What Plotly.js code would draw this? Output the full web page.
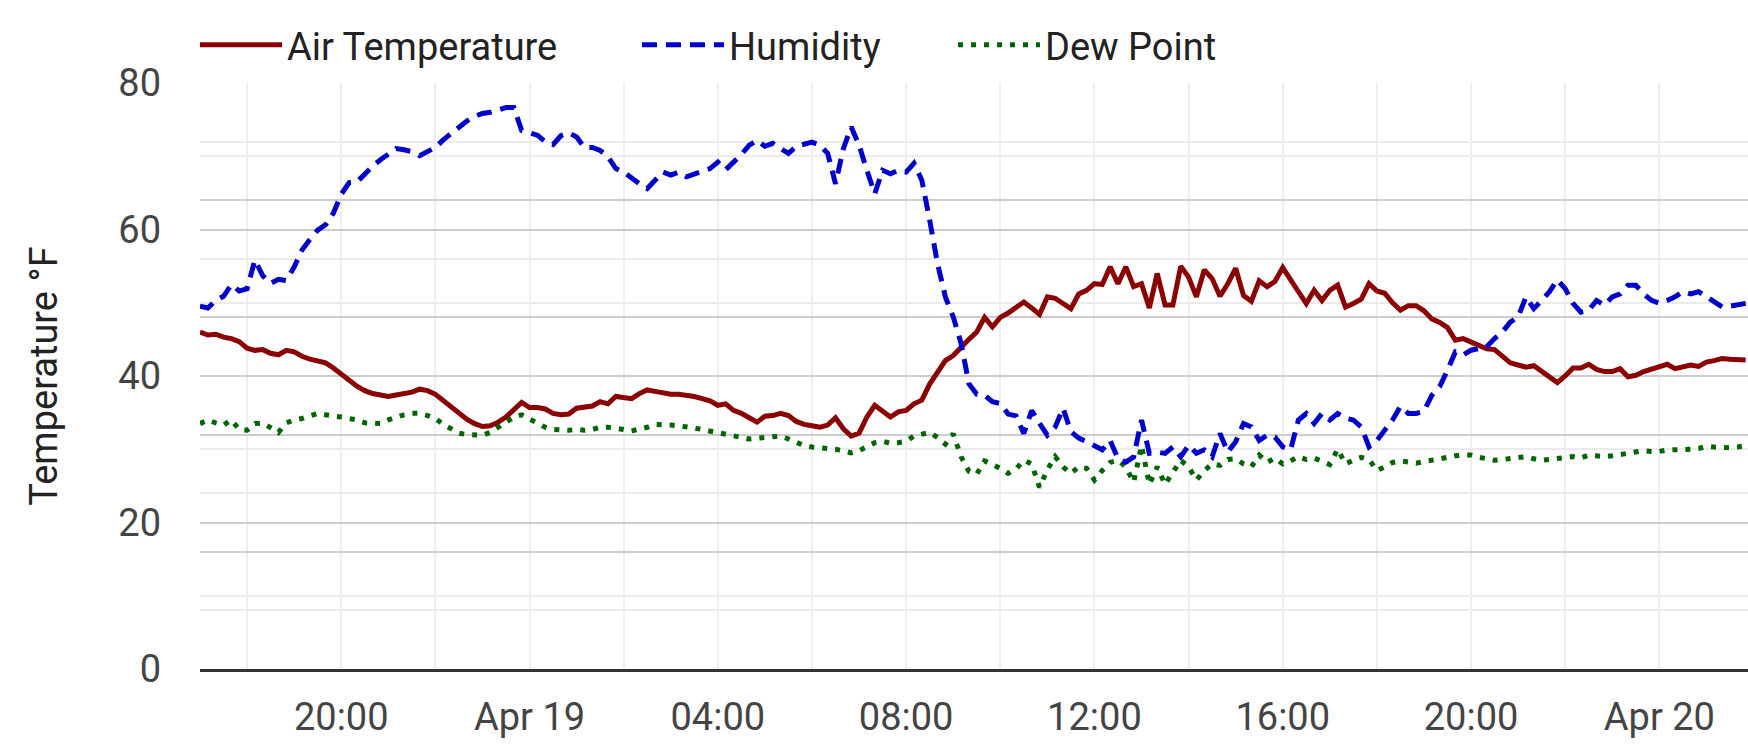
<!DOCTYPE html>
<html>
<head>
<meta charset="utf-8">
<script src="https://cdn.plot.ly/plotly-3.0.1.min.js"></script>
<style>
  html, body { margin: 0; padding: 0; background: #fff; }
</style>
</head>
<body>
<div id="chart" style="width:1748px;height:749px"></div>
<script>
// readings every 10 minutes from Apr 18 17:00
const stepMinutes = 10;

const airTemp = [
  46.0, 45.6, 45.7, 45.3, 45.1, 44.7, 43.8, 43.5, 43.6, 43.1,
  42.9, 43.5, 43.3, 42.7, 42.3, 42.1, 41.8, 41.1, 40.2, 39.4,
  38.6, 38.0, 37.6, 37.4, 37.2, 37.4, 37.6, 37.8, 38.2, 38.0,
  37.5, 36.6, 35.8, 34.9, 34.1, 33.5, 33.1, 33.2, 33.7, 34.4,
  35.5, 36.4, 35.7, 35.7, 35.5, 34.9, 34.7, 34.8, 35.6, 35.8,
  35.9, 36.5, 36.2, 37.2, 37.1, 36.9, 37.6, 38.1, 37.9, 37.7,
  37.5, 37.5, 37.4, 37.2, 36.9, 36.6, 36.0, 36.2, 35.3, 34.9,
  34.3, 33.7, 34.5, 34.6, 34.9, 34.6, 33.8, 33.4, 33.2, 33.0,
  33.3, 34.3, 32.8, 31.8, 32.2, 34.4, 36.0, 35.2, 34.4, 35.1,
  35.3, 36.2, 36.7, 38.9, 40.6, 42.1, 42.8, 44.0, 45.0, 46.0,
  48.0, 46.7, 48.0, 48.6, 49.4, 50.1, 49.3, 48.4, 50.8, 50.6,
  49.9, 49.2, 51.2, 51.7, 52.6, 52.5, 54.9, 52.6, 54.9, 52.2,
  52.6, 49.3, 54.0, 49.7, 49.7, 55.0, 53.5, 50.8, 54.5, 53.3,
  50.9, 52.6, 54.7, 51.0, 50.2, 53.0, 52.2, 52.9, 54.8, 53.0,
  51.5, 49.9, 51.7, 50.3, 51.7, 52.4, 49.4, 49.9, 50.5, 52.6,
  51.6, 51.3, 50.0, 49.0, 49.6, 49.6, 48.9, 47.8, 47.3, 46.6,
  44.9, 45.1, 44.6, 44.2, 43.7, 43.6, 42.8, 41.8, 41.5, 41.2,
  41.4, 40.6, 40.0, 39.1, 40.0, 41.1, 41.1, 41.6, 40.9, 40.6,
  40.6, 41.0, 39.9, 40.1, 40.6, 40.9, 41.3, 41.6, 41.0, 41.3,
  41.5, 41.3, 41.9, 42.1, 42.4, 42.3, 42.3, 42.2
];

// relative humidity in %, drawn on the hidden 0-100 axis
const humidity = [
  61.9, 61.6, 62.9, 63.6, 65.6, 64.5, 64.9, 69.8, 67.1, 65.8,
  66.5, 66.3, 68.6, 71.5, 73.3, 74.9, 75.8, 77.8, 81.0, 83.0,
  83.1, 84.5, 85.8, 86.9, 87.9, 88.8, 88.6, 88.3, 87.6, 88.3,
  89.0, 90.3, 91.4, 92.4, 93.5, 94.3, 94.8, 95.0, 95.4, 95.8,
  95.8, 91.9, 91.5, 91.1, 90.0, 89.5, 91.0, 91.5, 90.8, 89.0,
  89.0, 88.5, 87.4, 85.4, 84.8, 83.7, 82.8, 82.0, 83.4, 84.8,
  84.3, 84.8, 84.0, 84.5, 85.1, 85.4, 86.5, 85.2, 86.5, 87.8,
  89.4, 90.2, 89.2, 89.7, 88.8, 88.0, 89.2, 89.5, 89.9, 89.4,
  88.0, 82.8, 88.8, 92.5, 89.4, 85.1, 81.1, 85.1, 84.5, 85.1,
  84.8, 86.3, 83.4, 76.6, 69.2, 63.5, 60.1, 55.6, 48.7, 46.9,
  46.7, 45.6, 45.3, 43.5, 43.2, 40.2, 44.1, 41.9, 39.9, 41.3,
  44.5, 40.5, 39.4, 38.8, 38.2, 37.4, 39.0, 35.9, 35.3, 36.2,
  42.5, 36.8, 37.0, 36.8, 37.9, 36.2, 38.2, 36.8, 37.4, 36.2,
  40.2, 37.0, 38.8, 41.9, 41.3, 39.0, 39.9, 39.6, 37.9, 37.4,
  42.5, 43.6, 41.9, 43.6, 42.5, 43.6, 42.8, 42.5, 41.3, 37.9,
  39.0, 40.9, 42.5, 44.8, 43.6, 43.6, 44.0, 46.7, 48.2, 51.0,
  54.1, 53.6, 54.4, 54.7, 55.0, 56.4, 57.5, 59.2, 60.1, 63.5,
  61.5, 62.9, 64.4, 66.4, 64.9, 62.4, 60.9, 61.2, 62.9, 62.1,
  63.5, 64.0, 65.5, 65.5, 64.0, 62.9, 62.4, 62.9, 63.5, 64.4,
  64.0, 64.4, 63.5, 62.6, 61.8, 61.9, 62.1, 62.4
];

const dewPoint = [
  33.5, 34.0, 33.6, 33.3, 34.0, 32.7, 32.6, 33.5, 33.6, 33.0,
  32.3, 33.6, 34.0, 34.2, 34.5, 34.9, 34.7, 34.6, 34.4, 34.2,
  34.0, 33.6, 33.5, 33.5, 34.0, 34.4, 34.7, 34.9, 34.9, 34.6,
  34.2, 33.4, 32.7, 32.2, 32.0, 31.9, 31.9, 32.3, 33.0, 33.7,
  34.4, 34.7, 34.1, 33.5, 33.0, 32.7, 32.6, 32.6, 32.7, 32.6,
  32.7, 33.0, 33.0, 32.9, 32.7, 32.5, 32.7, 33.0, 33.4, 33.4,
  33.3, 33.2, 33.1, 32.9, 32.7, 32.5, 32.3, 32.1, 31.9, 31.7,
  31.4, 31.5, 31.6, 31.8, 31.8, 31.4, 31.0, 30.5, 30.3, 30.2,
  30.2, 30.0, 29.8, 29.5, 29.8, 30.4, 30.9, 31.1, 30.8, 30.9,
  31.1, 31.8, 32.1, 32.3, 31.6, 30.7, 32.1, 29.0, 27.0, 26.6,
  28.4, 27.9, 27.4, 26.7, 27.3, 28.5, 28.0, 24.8, 27.2, 29.0,
  27.6, 26.7, 27.6, 27.4, 25.8, 27.1, 28.2, 28.5, 27.6, 25.5,
  30.5, 25.2, 27.6, 25.2, 26.8, 28.5, 27.6, 25.8, 27.1, 28.0,
  27.8, 28.6, 28.7, 28.0, 27.6, 29.2, 28.2, 28.8, 28.0, 28.4,
  29.0, 28.6, 28.8, 28.3, 27.9, 30.0, 28.0, 28.5, 28.9, 28.6,
  27.1, 27.6, 28.2, 28.4, 28.3, 28.1, 28.3, 28.5, 28.8, 29.0,
  29.1, 29.2, 29.2, 28.9, 28.7, 28.5, 28.6, 28.7, 28.9, 29.0,
  28.7, 28.5, 28.6, 28.7, 28.9, 29.0, 28.8, 29.2, 29.1, 29.0,
  29.1, 29.3, 29.4, 29.6, 29.8, 29.7, 29.7, 29.9, 29.9, 30.0,
  30.0, 30.1, 30.4, 30.3, 30.2, 30.2, 30.3, 30.5
];

const tickVals = [
  '2024-04-18 20:00', '2024-04-19 00:00', '2024-04-19 04:00', '2024-04-19 08:00',
  '2024-04-19 12:00', '2024-04-19 16:00', '2024-04-19 20:00', '2024-04-20 00:00'
];
const tickText = ['20:00', 'Apr 19', '04:00', '08:00', '12:00', '16:00', '20:00', 'Apr 20'];

function pad(n) { return String(n).padStart(2, '0'); }

// wall clock strings, so plotly does not shift anything by timezone
function timeAt(i) {
  var d = new Date(Date.UTC(2024, 3, 18, 17, 0) + i * stepMinutes * 60000);
  return d.getUTCFullYear() + '-' + pad(d.getUTCMonth() + 1) + '-' + pad(d.getUTCDate()) +
    ' ' + pad(d.getUTCHours()) + ':' + pad(d.getUTCMinutes());
}

var times = airTemp.map(function (_, i) { return timeAt(i); });

var fontFamily = 'Roboto, "Noto Sans", sans-serif';

var traces = [
  {
    name: 'Air Temperature', x: times, y: airTemp, type: 'scatter', mode: 'lines',
    line: { color: '#8b0000', width: 5 }, legend: 'legend'
  },
  {
    name: 'Humidity', x: times, y: humidity, type: 'scatter', mode: 'lines', yaxis: 'y2',
    line: { color: '#0000cd', width: 5, dash: '15px,9px' }, legend: 'legend2'
  },
  {
    name: 'Dew Point', x: times, y: dewPoint, type: 'scatter', mode: 'lines',
    line: { color: '#006400', width: 5, dash: '5px,8px' }, legend: 'legend3'
  }
];

function legendAt(px) {
  return {
    orientation: 'h', xref: 'container', yref: 'container',
    x: px / 1748, y: 1 - 45 / 749, xanchor: 'left', yanchor: 'middle',
    itemwidth: 82, bgcolor: 'rgba(0,0,0,0)',
    font: { family: fontFamily, size: 38, color: '#222' }
  };
}

var layout = {
  width: 1748,
  height: 749,
  margin: { l: 200, r: 0, t: 83, b: 80 },
  paper_bgcolor: '#fff',
  plot_bgcolor: '#fff',
  font: { family: fontFamily, size: 38, color: '#444' },
  showlegend: true,
  legend: legendAt(195),
  legend2: legendAt(637),
  legend3: legendAt(953),
  hovermode: false,
  xaxis: {
    type: 'date',
    range: ['2024-04-18 17:00', '2024-04-20 01:53'],
    tickmode: 'array', tickvals: tickVals, ticktext: tickText,
    ticks: '', ticklabelstandoff: 12,
    showgrid: true, gridcolor: '#efefef', gridwidth: 2,
    minor: { dtick: 2 * 3600 * 1000, showgrid: true, gridcolor: '#efefef', gridwidth: 2 },
    showline: true, linecolor: '#333', linewidth: 3,
    zeroline: false, fixedrange: true
  },
  yaxis: {
    range: [0, 80], tickmode: 'array', tickvals: [0, 20, 40, 60, 80],
    ticks: '', ticklabelstandoff: 38,
    gridcolor: '#cccccc', gridwidth: 2,
    minor: { dtick: 10, showgrid: true, gridcolor: '#ebebeb', gridwidth: 2 },
    zeroline: false, showline: false, fixedrange: true,
    title: { text: 'Temperature °F', standoff: 48, font: { family: fontFamily, size: 38, color: '#222' } }
  },
  yaxis2: {
    overlaying: 'y', side: 'right', range: [0, 100], dtick: 20,
    showticklabels: false, ticks: '',
    gridcolor: '#cccccc', gridwidth: 2,
    minor: { dtick: 10, showgrid: true, gridcolor: '#ebebeb', gridwidth: 2 },
    zeroline: false, showline: false, fixedrange: true
  }
};

Plotly.newPlot('chart', traces, layout, { displayModeBar: false, staticPlot: true });
</script>
</body>
</html>
